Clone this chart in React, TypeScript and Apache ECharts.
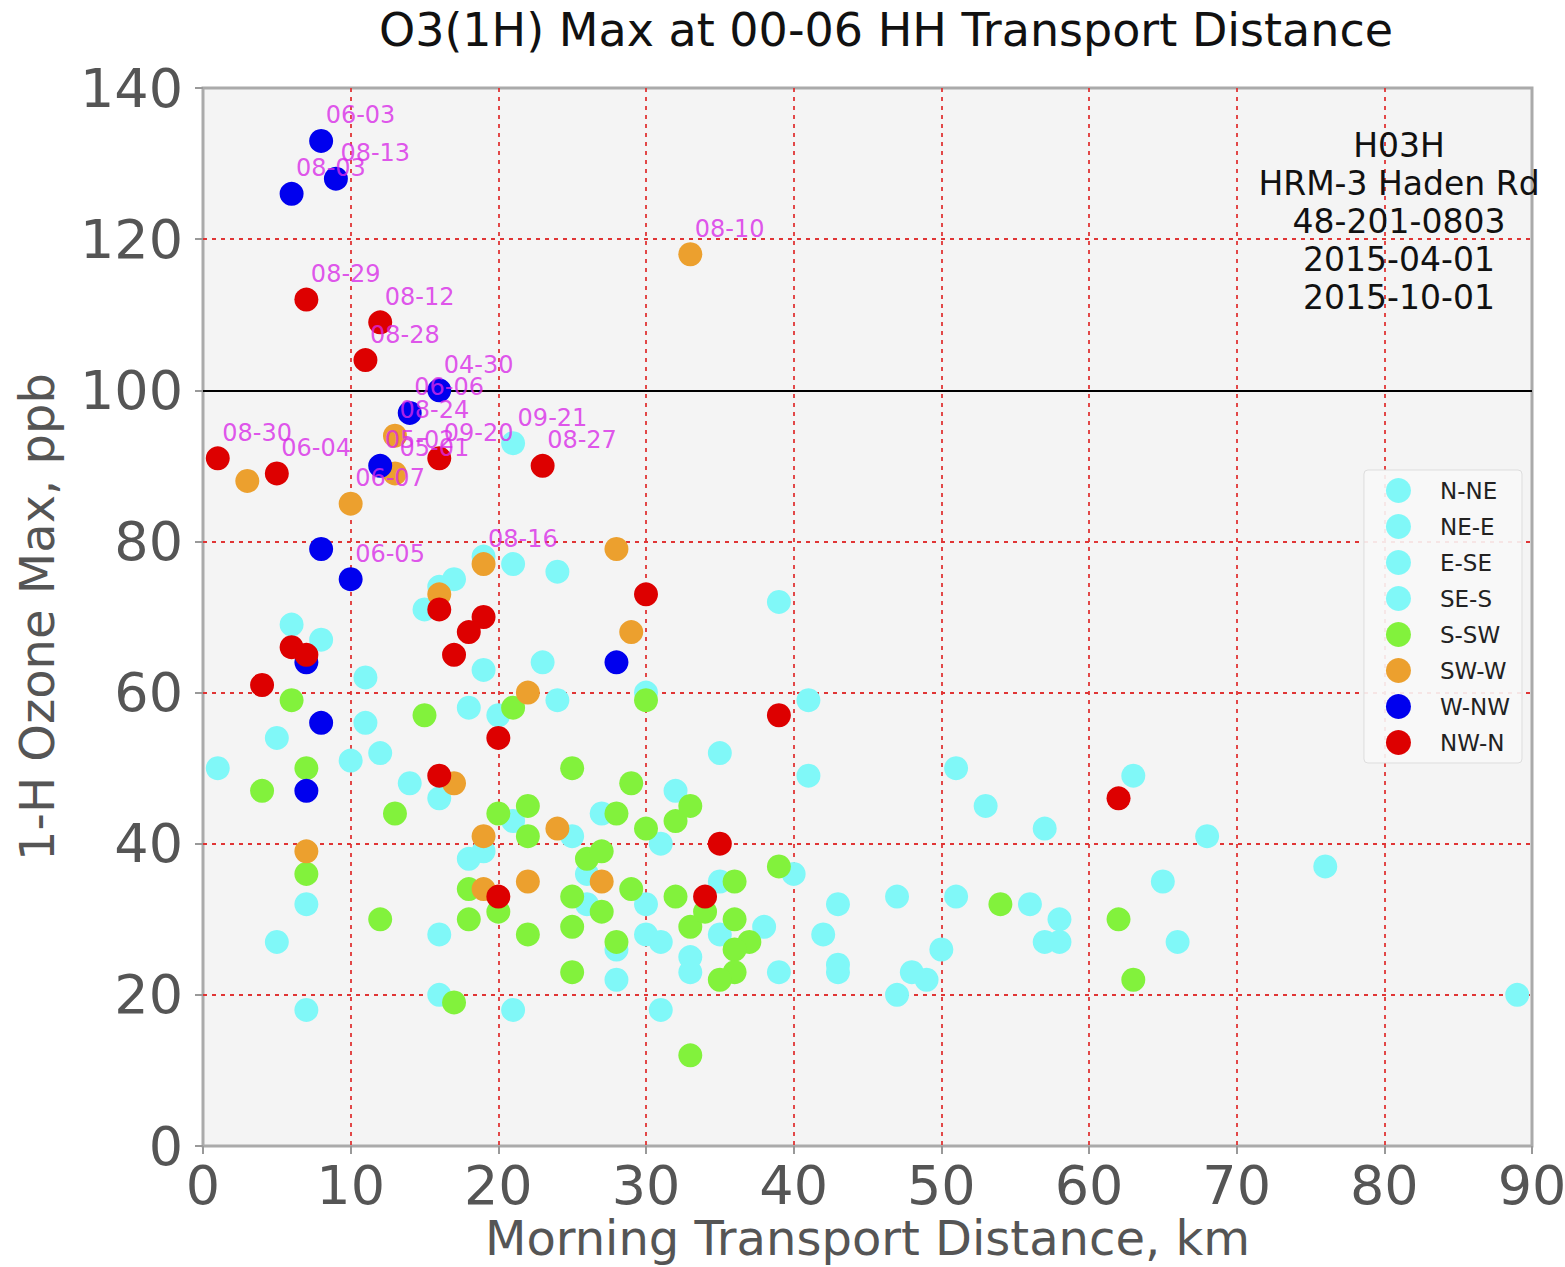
import React, { useEffect, useRef } from "react";
import * as echarts from "echarts";

// Each point: [transport distance km, ozone max ppb, optional date label]
type Pt = [number, number, string?];

const nNe: Pt[] = [
  [21, 93, "09-21"], [19, 78], [21, 77], [24, 76], [17, 75], [16, 74], [15, 71], [6, 69], [8, 67], [19, 63],
  [23, 64], [11, 62], [18, 58], [20, 57], [24, 59], [11, 56], [5, 54], [12, 52], [10, 51], [1, 50],
];
const neE: Pt[] = [
  [14, 48], [16, 46], [21, 43], [25, 41], [27, 44], [30, 60], [18, 38], [19, 39], [7, 32], [5, 27],
  [16, 28], [26, 36], [26, 32], [28, 26], [28, 22], [30, 32], [30, 28], [16, 20], [7, 18], [21, 18],
];
const eSe: Pt[] = [
  [39, 72], [41, 59], [35, 52], [41, 49], [32, 47], [51, 50], [53, 45], [57, 42], [31, 40], [40, 36],
  [31, 27], [33, 25], [33, 23], [35, 28], [35, 35], [38, 29], [39, 23], [31, 18], [43, 32],
];
const seS: Pt[] = [
  [42, 28], [43, 24], [43, 23], [47, 33], [51, 33], [56, 32], [50, 26], [48, 23], [49, 22], [47, 20],
  [57, 27], [63, 49], [68, 41], [76, 37], [65, 35], [58, 30], [58, 27], [66, 27], [89, 20],
];
const sSw: Pt[] = [
  [6, 59], [4, 47], [7, 50], [15, 57], [21, 58], [25, 50], [30, 59], [13, 44], [20, 44], [22, 45],
  [29, 48], [28, 44], [30, 42], [22, 41], [7, 36], [12, 30], [18, 34], [18, 30], [20, 31], [22, 28],
  [25, 33], [25, 29], [25, 23], [26, 38], [27, 39], [27, 31], [28, 27], [29, 34], [17, 19], [33, 12],
  [32, 43], [33, 45], [32, 33], [33, 29], [34, 31], [36, 35], [36, 30], [37, 27], [36, 26], [36, 23],
  [35, 22], [39, 37], [54, 32], [62, 30], [63, 22],
];
const swW: Pt[] = [
  [3, 88], [10, 85, "06-07"], [13, 94, "08-24"], [13, 89, "05-01"], [33, 118, "08-10"], [19, 77, "08-16"],
  [28, 79], [16, 73], [29, 68], [22, 60], [17, 48], [7, 39], [19, 41], [24, 42], [19, 34], [22, 35], [27, 35],
];
const wNw: Pt[] = [
  [8, 133, "06-03"], [9, 128, "08-13"], [6, 126, "08-03"], [16, 100, "04-30"], [14, 97, "06-06"],
  [12, 90, "05-02"], [10, 75, "06-05"], [8, 79], [7, 64], [8, 56], [7, 47], [28, 64],
];
const nwN: Pt[] = [
  [7, 112, "08-29"], [12, 109, "08-12"], [11, 104, "08-28"], [1, 91, "08-30"], [5, 89, "06-04"],
  [16, 91, "09-20"], [23, 90, "08-27"], [6, 66], [7, 65], [4, 61], [16, 71], [19, 70], [18, 68],
  [17, 65], [30, 73], [20, 54], [16, 49], [20, 33], [39, 57], [35, 40], [34, 33], [62, 46],
];

const sectorNames = ["N-NE", "NE-E", "E-SE", "SE-S", "S-SW", "SW-W", "W-NW", "NW-N"];
const sectorData = [nNe, neE, eSe, seS, sSw, swW, wNw, nwN];
const sectorColors = ["#80f8f8", "#80f8f8", "#80f8f8", "#80f8f8", "#82f23c", "#eca02e", "#0000ee", "#dd0000"];

const xTicks = { min: 0, max: 90, interval: 10 };
const yTicks = { min: 0, max: 140, interval: 20 };
const standardLevel = 100;

const siteInfo = ["H03H", "HRM-3 Haden Rd", "48-201-0803", "2015-04-01", "2015-10-01"];

const FONT = "DejaVu Sans";

export default function App() {
  const ref = useRef<HTMLDivElement>(null);

  useEffect(() => {
    if (!ref.current) return;
    const chart = echarts.init(ref.current, undefined, { renderer: "svg" });

    const gridLine = {
      show: true,
      showMinLine: false,
      showMaxLine: false,
      lineStyle: { color: "#e03535", type: [4, 5] as any, width: 1.8 },
    };

    const series: any[] = sectorData.map((pts, i) => ({
      name: sectorNames[i],
      type: "scatter",
      symbol: "circle",
      symbolSize: 24,
      itemStyle: { color: sectorColors[i], opacity: 1 },
      data: pts.map((p) => [p[0], p[1]]),
      z: 3 + i,
    }));

    // reference line at the standard level
    series[0].markLine = {
      silent: true,
      symbol: "none",
      label: { show: false },
      lineStyle: { color: "#000", width: 2, type: "solid" },
      data: [{ yAxis: standardLevel }],
    };

    // date annotations on top of all markers
    const labelled = sectorData.flat().filter((p) => p[2]);
    series.push({
      name: "dates",
      type: "scatter",
      symbolSize: 1,
      itemStyle: { color: "transparent" },
      silent: true,
      z: 20,
      data: labelled.map((p) => ({ value: [p[0], p[1]], name: p[2] })),
      label: {
        show: true,
        formatter: (q: any) => q.name,
        position: [5, -25],
        align: "left",
        verticalAlign: "middle",
        color: "#d92ae8",
        fontFamily: FONT,
        fontSize: 24,
      },
    });

    chart.setOption({
      animation: false,
      backgroundColor: "#ffffff",
      textStyle: { fontFamily: FONT },
      grid: {
        left: 203,
        right: 33,
        top: 88,
        bottom: 121,
        outerBoundsMode: "none",
        containLabel: false,
        show: true,
        backgroundColor: "#f4f4f4",
        borderColor: "#aaaaaa",
        borderWidth: 3,
      },
      xAxis: {
        type: "value",
        ...xTicks,
        name: "Morning Transport Distance, km",
        nameLocation: "middle",
        nameGap: 67,
        nameMoveOverlap: false,
        nameTextStyle: { color: "#555", fontSize: 48, lineHeight: 50, fontFamily: FONT },
        axisLine: { show: false },
        axisTick: { show: true, length: 8, lineStyle: { color: "#999", width: 2 } },
        axisLabel: { color: "#555", fontSize: 54, lineHeight: 54, margin: 12, fontFamily: FONT },
        splitLine: gridLine,
      },
      yAxis: {
        type: "value",
        ...yTicks,
        name: "1-H Ozone Max, ppb",
        nameLocation: "middle",
        nameGap: 142,
        nameMoveOverlap: false,
        nameTextStyle: { color: "#555", fontSize: 48, fontFamily: FONT },
        axisLine: { show: false },
        axisTick: { show: true, length: 8, lineStyle: { color: "#999", width: 2 } },
        axisLabel: { color: "#555", fontSize: 54, margin: 20, fontFamily: FONT },
        splitLine: gridLine,
      },
      legend: {
        data: sectorNames,
        orient: "vertical",
        right: 43,
        top: 470,
        icon: "circle",
        itemWidth: 25,
        itemHeight: 25,
        itemGap: 11,
        padding: [8, 12, 8, 22],
        backgroundColor: "rgba(248,248,248,0.9)",
        borderColor: "#dddddd",
        borderWidth: 1,
        borderRadius: 4,
        textStyle: { color: "#222", fontSize: 23, fontFamily: FONT, padding: [0, 0, 0, 24] },
      },
      graphic: [
        {
          type: "text",
          x: 886,
          y: 30,
          style: {
            text: "O3(1H) Max at 00-06 HH Transport Distance",
            fontSize: 46,
            fontFamily: FONT,
            fill: "#111",
            align: "center",
            verticalAlign: "middle",
          },
        },
        {
          type: "text",
          x: 1399,
          y: 126,
          style: {
            text: siteInfo.join("\n"),
            fontSize: 33,
            lineHeight: 38,
            fontFamily: FONT,
            fill: "#111",
            align: "center",
          },
          z: 30,
        },
      ],
      series,
    });

    return () => chart.dispose();
  }, []);

  return (
    <div
      ref={ref}
      style={{ position: "absolute", left: 0, top: 0, width: 1565, height: 1267 }}
    />
  );
}
